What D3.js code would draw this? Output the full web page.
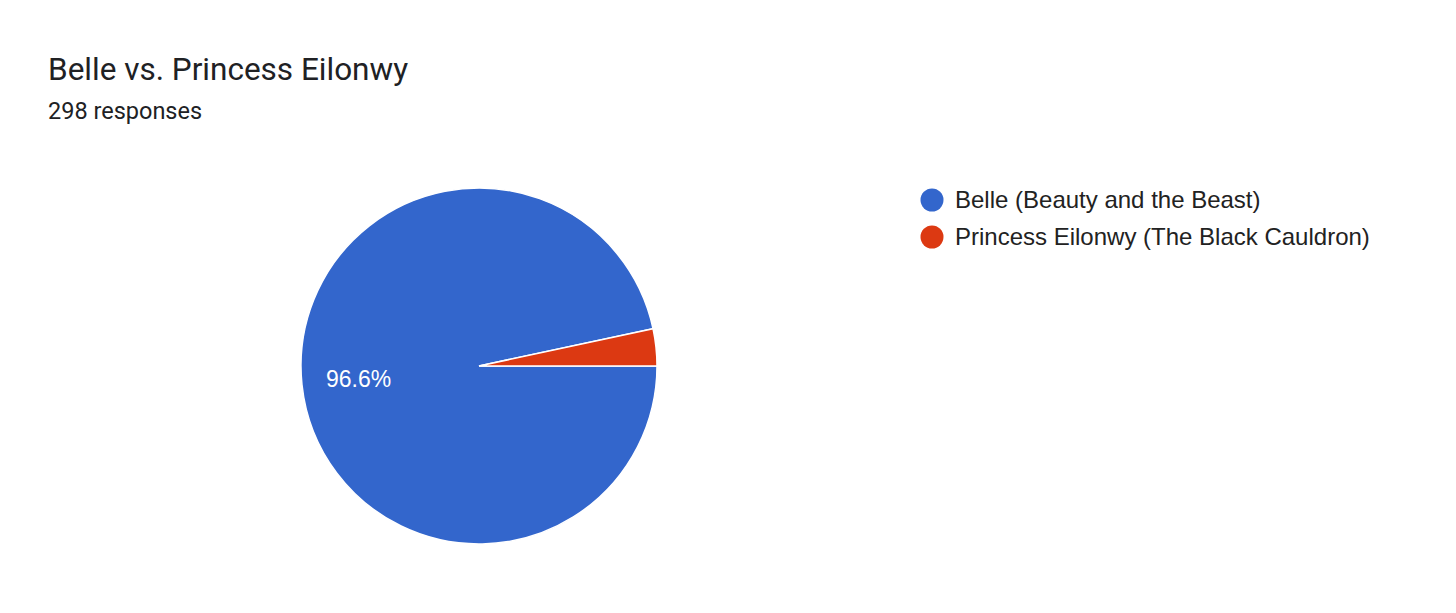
<!DOCTYPE html>
<html>
<head>
<meta charset="utf-8">
<script src="https://cdn.jsdelivr.net/npm/d3@7"></script>
<style>
  body { margin: 0; background: #fff; }
</style>
</head>
<body>
<div id="chart"></div>
<script>
var categories = ["Belle (Beauty and the Beast)", "Princess Eilonwy (The Black Cauldron)"];
var counts = [288, 10];
var colors = ["#3366cc", "#dc3912"];

var width = 1456,
    height = 613;

var svg = d3.select("#chart").append("svg")
    .attr("width", width)
    .attr("height", height);

svg.append("text")
    .attr("x", 48)
    .attr("y", 80)
    .style("font-family", "Roboto")
    .style("font-size", "31.5px")
    .style("fill", "#202124")
    .text("Belle vs. Princess Eilonwy");

var total = d3.sum(counts);

svg.append("text")
    .attr("x", 48)
    .attr("y", 119)
    .style("font-family", "Roboto")
    .style("font-size", "23.5px")
    .style("fill", "#202124")
    .text(total + " responses");

var data = categories.map(function(c, i) { return {name: c, value: counts[i], color: colors[i]}; });

var r = 178;
var pie = d3.pie()
    .value(function(d) { return d.value; })
    .sort(null)
    .startAngle(Math.PI / 2)
    .endAngle(Math.PI / 2 + 2 * Math.PI);

var arc = d3.arc().innerRadius(0).outerRadius(r);
var labelArc = d3.arc().innerRadius(r * 0.68).outerRadius(r * 0.68);

var g = svg.append("g").attr("transform", "translate(479,366)");

var slices = g.selectAll(".slice")
    .data(pie(data))
    .enter().append("g")
      .attr("class", "slice");

slices.append("path")
    .attr("d", arc)
    .style("fill", function(d) { return d.data.color; })
    .style("stroke", "#fff")
    .style("stroke-width", 1.5);

slices.filter(function(d) { return d.data.value / total > 0.05; })
  .append("text")
    .attr("transform", function(d) { return "translate(" + labelArc.centroid(d) + ")"; })
    .attr("dy", "0.35em")
    .style("text-anchor", "middle")
    .style("font-family", "Liberation Sans, Arial")
    .style("font-size", "23px")
    .style("fill", "#fff")
    .text(function(d) { return (d.data.value / total * 100).toFixed(1) + "%"; });

var legend = svg.selectAll(".legend")
    .data(data)
    .enter().append("g")
      .attr("class", "legend")
      .attr("transform", function(d, i) { return "translate(932," + (200 + i * 37) + ")"; });

legend.append("circle")
    .attr("r", 11.5)
    .style("fill", function(d) { return d.color; });

legend.append("text")
    .attr("x", 23)
    .attr("dy", "0.35em")
    .style("font-family", "Liberation Sans, Arial")
    .style("font-size", "24px")
    .style("fill", "#222")
    .text(function(d) { return d.name; });
</script>
</body>
</html>
